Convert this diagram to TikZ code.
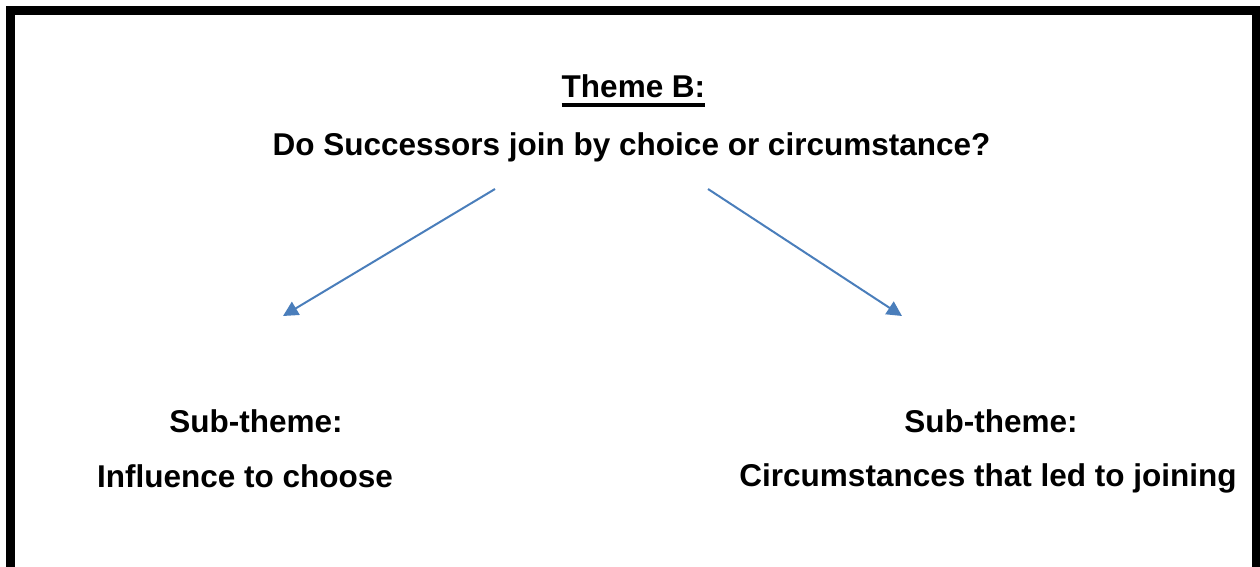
\documentclass[tikz,border=0pt]{standalone}
\usepackage{fontspec}
\setmainfont{Liberation Sans}
\usetikzlibrary{arrows.meta}
\definecolor{arrowblue}{RGB}{74,126,187}
\tikzset{
  label text/.style={font=\fontsize{31.5}{36}\selectfont\bfseries, anchor=base, inner sep=0pt},
  link/.style={draw=arrowblue, line width=2pt, -{Triangle[length=15pt,width=15pt]}},
  frame/.style={line width=9pt, line join=miter}
}
\begin{document}
\begin{tikzpicture}[x=1pt, y=-1pt]
  \useasboundingbox (0,0) rectangle (1260,567);
  % open frame: left, top and right sides
  \draw[frame] (10.5,567) -- (10.5,10.5) -- (1256.5,10.5) -- (1256.5,567);

  % heading
  \node[label text] (theme) at (633.5,98) {Theme B:};
  \draw[line width=4pt] ([yshift=-7.5pt]theme.base west) -- ([yshift=-7.5pt]theme.base east);
  \node[label text] (question) at (631.5,155) {Do Successors join by choice or circumstance?};

  % sub-themes
  \node[label text] (subA) at (256,432) {Sub-theme:};
  \node[label text] (influence) at (245,487) {Influence to choose};
  \node[label text] (subB) at (991,432) {Sub-theme:};
  \node[label text] (circ) at (988,486) {Circumstances that led to joining};

  % arrows
  \coordinate (startA) at (495,189);
  \coordinate (endA) at (283,316);
  \coordinate (startB) at (708,189);
  \coordinate (endB) at (902,316);
  \draw[link] (startA) -- (endA);
  \draw[link] (startB) -- (endB);
\end{tikzpicture}
\end{document}
